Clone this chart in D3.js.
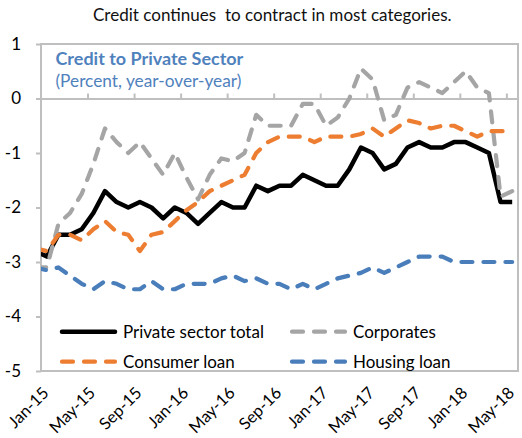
<!DOCTYPE html>
<html><head><meta charset="utf-8">
<script src="https://cdn.jsdelivr.net/npm/d3@7"></script>
<style>body{margin:0;background:#fff}svg{display:block}text{font-family:Lato,"Open Sans",sans-serif}</style>
</head><body>
<svg id="c" width="522" height="438"></svg>
<script>
// Categories (Dec-14 is a lead-in point, clipped by the plot area like in the source)
const months = ["Dec-14",
 "Jan-15","Feb-15","Mar-15","Apr-15","May-15","Jun-15","Jul-15","Aug-15","Sep-15","Oct-15","Nov-15","Dec-15",
 "Jan-16","Feb-16","Mar-16","Apr-16","May-16","Jun-16","Jul-16","Aug-16","Sep-16","Oct-16","Nov-16","Dec-16",
 "Jan-17","Feb-17","Mar-17","Apr-17","May-17","Jun-17","Jul-17","Aug-17","Sep-17","Oct-17","Nov-17","Dec-17",
 "Jan-18","Feb-18","Mar-18","Apr-18","May-18"];
const tickLabels = ["Jan-15","May-15","Sep-15","Jan-16","May-16","Sep-16","Jan-17","May-17","Sep-17","Jan-18","May-18"];
const yTicks = [1,0,-1,-2,-3,-4,-5];

const privateTotal = [-2.8,
 -2.9,-2.5,-2.5,-2.4,-2.1,-1.7,-1.9,-2.0,-1.9,-2.0,
 -2.2,-2.0,-2.1,-2.3,-2.1,-1.9,-2.0,-2.0,-1.6,-1.7,
 -1.6,-1.6,-1.4,-1.5,-1.6,-1.6,-1.3,-0.9,-1.0,-1.3,
 -1.2,-0.9,-0.8,-0.9,-0.9,-0.8,-0.8,-0.9,-1.0,-1.9,
 -1.9];
const corporates = [-3.1,
 -3.1,-2.3,-2.1,-1.75,-1.2,-0.55,-0.8,-1.0,-0.8,-1.1,
 -1.4,-1.0,-1.45,-1.85,-1.4,-1.1,-1.15,-1.0,-0.3,-0.5,
 -0.5,-0.5,-0.1,-0.1,-0.5,-0.35,0.0,0.55,0.35,-0.4,
 -0.3,0.2,0.3,0.2,0.1,0.3,0.5,0.2,0.1,-1.8,
 -1.7];
const consumerLoan = [-2.75,
 -2.8,-2.5,-2.5,-2.6,-2.4,-2.25,-2.45,-2.5,-2.8,-2.5,
 -2.45,-2.25,-2.05,-1.9,-1.7,-1.6,-1.5,-1.4,-1.0,-0.8,
 -0.7,-0.7,-0.7,-0.8,-0.7,-0.7,-0.7,-0.65,-0.55,-0.7,
 -0.55,-0.4,-0.45,-0.55,-0.5,-0.5,-0.6,-0.7,-0.6,-0.6,
 -0.6];
const housingLoan = [-3.1,
 -3.15,-3.1,-3.25,-3.4,-3.5,-3.35,-3.4,-3.5,-3.5,-3.35,
 -3.5,-3.5,-3.4,-3.4,-3.4,-3.3,-3.25,-3.35,-3.3,-3.4,
 -3.4,-3.5,-3.4,-3.5,-3.4,-3.3,-3.25,-3.2,-3.1,-3.2,
 -3.1,-3.0,-2.9,-2.9,-2.9,-3.0,-3.0,-3.0,-3.0,-3.0,
 -3.0];

const seriesNames = ["Private sector total","Corporates","Consumer loan","Housing loan"];
const seriesColors = ["#000000","#a5a5a5","#ed7d31","#4a7ebb"];
const seriesData = [privateTotal, corporates, consumerLoan, housingLoan];

const svg = d3.select("#c");
const P = {l:41, r:518, t:44, b:371};
const x = d3.scaleLinear().domain([0.5, months.length - 0.5]).range([P.l, P.r]);
const y = d3.scaleLinear().domain([-5, 1]).range([P.b, P.t]);

function fit(sel, w){
  const fs = parseFloat(sel.attr("font-size"));
  const cur = sel.node().getComputedTextLength();
  sel.attr("font-size", fs * w / cur);
  return fs * w / cur;
}

// Title
const title = svg.append("text").attr("x", 93).attr("y", 20.5).attr("font-size", 16)
  .attr("fill", "#111").style("white-space","pre")
  .text("Credit continues  to contract in most categories.");
fit(title, 359);

// clip
svg.append("clipPath").attr("id","pa").append("rect")
  .attr("x", P.l).attr("y", P.t).attr("width", P.r - P.l).attr("height", P.b - P.t);

// Plot border
svg.append("rect").attr("x", P.l).attr("y", P.t).attr("width", P.r - P.l).attr("height", P.b - P.t)
  .attr("fill","none").attr("stroke","#bfbfbf").attr("stroke-width",2);

// Y axis
const yAxis = svg.append("g").attr("transform", `translate(${P.l},0)`)
  .call(d3.axisLeft(y).tickValues(yTicks).tickSize(5).tickPadding(15).tickFormat(d => String(d)));
yAxis.select(".domain").remove();
yAxis.selectAll(".tick line").attr("stroke","#bfbfbf").attr("stroke-width",2);
yAxis.selectAll(".tick text").attr("font-size", 17).attr("fill","#000").style("font-family","Lato");

// X axis at zero with tick marks between categories
const boundaries = d3.range(4.5, months.length - 1, 4);
const xAxis = svg.append("g").attr("transform", `translate(0,${y(0)})`)
  .call(d3.axisTop(x).tickValues(boundaries).tickSize(5).tickSizeOuter(0).tickFormat(""));
xAxis.select(".domain").attr("stroke","#bfbfbf").attr("stroke-width",2);
xAxis.selectAll(".tick line").attr("stroke","#bfbfbf").attr("stroke-width",2);

// X labels
svg.append("g").selectAll("text").data(tickLabels).join("text")
  .attr("transform", d => `translate(${x(months.indexOf(d)) + 3},${P.b + 23}) rotate(-45)`)
  .attr("text-anchor","end").attr("font-size", 16.5).attr("fill","#000")
  .text(d => d);

// Inner title
const t1 = svg.append("text").attr("x", 55.5).attr("y", 65).attr("font-size", 16)
  .attr("font-weight","bold").attr("fill","#4f81bd").text("Credit to Private Sector");
fit(t1, 188);
const t2 = svg.append("text").attr("x", 55.5).attr("y", 87).attr("font-size", 16)
  .attr("fill","#4f81bd").text("(Percent, year-over-year)");
fit(t2, 186);

// Lines
const line = d3.line().x((d,i) => x(i)).y(d => y(d));
const lg = svg.append("g").attr("clip-path","url(#pa)");
seriesData.forEach((s, k) => {
  lg.append("path").datum(s).attr("d", line).attr("fill","none")
    .attr("stroke", seriesColors[k]).attr("stroke-width", k === 0 ? 4.5 : 4.2)
    .attr("stroke-linejoin","round").attr("stroke-linecap", k === 0 ? "butt" : "round")
    .attr("stroke-dasharray", k === 0 ? null : "11 11");
});

// Legend
const legPos = [[62, 331.7],[292, 331.7],[62, 361.7],[292, 361.7]];
let legFs = 16;
seriesNames.forEach((n, k) => {
  const [lx, ly] = legPos[k];
  svg.append("line").attr("x1", lx).attr("x2", lx + 53).attr("y1", ly).attr("y2", ly)
    .attr("stroke", seriesColors[k]).attr("stroke-width", k === 0 ? 4.5 : 4.2)
    .attr("stroke-linecap","round").attr("stroke-dasharray", k === 0 ? null : "11 11");
  const t = svg.append("text").attr("class","leg").attr("x", lx + 61).attr("y", ly + 6)
    .attr("font-size", legFs).attr("fill","#000").text(n);
  if (k === 0) legFs = fit(t, 141);
});
svg.selectAll("text.leg").attr("font-size", legFs);
</script>
</body></html>
